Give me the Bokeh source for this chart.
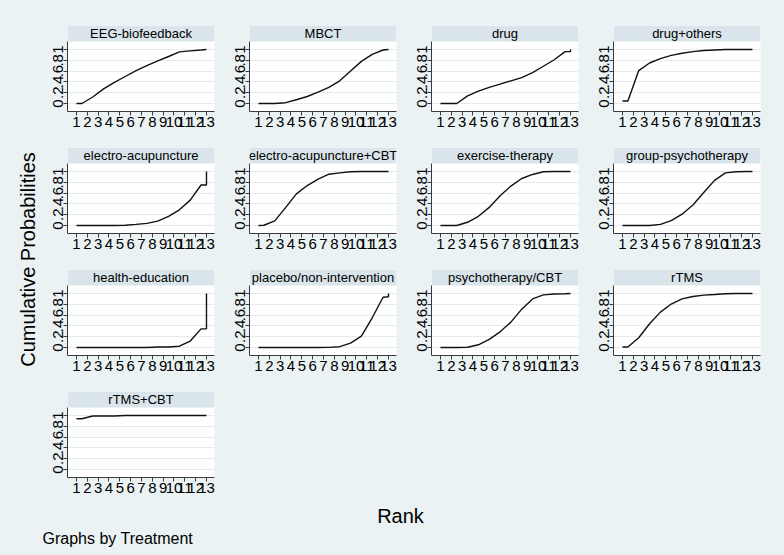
import math
from bokeh.plotting import figure
from bokeh.models import Range1d, FixedTicker, BoxAnnotation, Label
from bokeh.layouts import column, row
from bokeh.embed import file_html
from bokeh.resources import INLINE

# ---------------- data ----------------
TREATMENTS = ["EEG-biofeedback", "MBCT", "drug", "drug+others",
              "electro-acupuncture", "electro-acupuncture+CBT", "exercise-therapy", "group-psychotherapy",
              "health-education", "placebo/non-intervention", "psychotherapy/CBT", "rTMS",
              "rTMS+CBT"]
RANKS = [1, 2, 3, 4, 5, 6, 7, 8, 9, 10, 11, 12, 13]
# rank positions at which the curves have their vertices
RANK_POS = [1, 1.5, 2.5, 3.5, 4.5, 5.5, 6.5, 7.5, 8.5, 9.5, 10.5, 11.5, 12.5, 13, 13]
Y_TICKS = [0, 0.2, 0.4, 0.6, 0.8, 1]
Y_TICK_LABELS = ["0", ".2", ".4", ".6", ".8", "1"]

EEG_BIOFEEDBACK = [0, 0, 0.12, 0.27, 0.39, 0.50, 0.61, 0.70, 0.79, 0.87, 0.955, 0.975, 0.99, 1.0, 1.0]
MBCT = [0, 0, 0, 0.015, 0.07, 0.13, 0.21, 0.30, 0.42, 0.60, 0.78, 0.91, 0.99, 1.0, 1.0]
DRUG = [0, 0, 0, 0.14, 0.23, 0.30, 0.36, 0.42, 0.48, 0.57, 0.69, 0.81, 0.96, 0.96, 1.0]
DRUG_OTHERS = [0.045, 0.045, 0.61, 0.75, 0.83, 0.89, 0.93, 0.96, 0.98, 0.99, 1.0, 1.0, 1.0, 1.0, 1.0]
ELECTRO_ACUPUNCTURE = [0, 0, 0, 0, 0, 0.005, 0.02, 0.04, 0.08, 0.17, 0.29, 0.47, 0.75, 0.75, 1.0]
ELECTRO_ACUPUNCTURE_CBT = [0, 0.005, 0.085, 0.33, 0.585, 0.74, 0.86, 0.95, 0.975, 0.995, 1.0, 1.0, 1.0, 1.0, 1.0]
EXERCISE_THERAPY = [0, 0, 0, 0.06, 0.17, 0.335, 0.55, 0.73, 0.87, 0.945, 0.995, 1.0, 1.0, 1.0, 1.0]
GROUP_PSYCHOTHERAPY = [0, 0, 0, 0, 0.02, 0.09, 0.21, 0.38, 0.61, 0.835, 0.975, 0.995, 1.0, 1.0, 1.0]
HEALTH_EDUCATION = [0, 0, 0, 0, 0, 0, 0, 0, 0.01, 0.01, 0.024, 0.12, 0.345, 0.345, 1.0]
PLACEBO = [0, 0, 0, 0, 0, 0, 0, 0.002, 0.015, 0.08, 0.21, 0.55, 0.93, 0.94, 1.0]
PSYCHOTHERAPY_CBT = [0, 0, 0, 0.005, 0.05, 0.15, 0.29, 0.47, 0.71, 0.90, 0.975, 0.99, 0.995, 1.0, 1.0]
RTMS = [0.01, 0.01, 0.18, 0.44, 0.655, 0.805, 0.90, 0.945, 0.97, 0.98, 0.995, 1.0, 1.0, 1.0, 1.0]
RTMS_CBT = [0.94, 0.94, 0.99, 0.99, 0.99, 1.0, 1.0, 1.0, 1.0, 1.0, 1.0, 1.0, 1.0, 1.0, 1.0]

SERIES = [EEG_BIOFEEDBACK, MBCT, DRUG, DRUG_OTHERS,
          ELECTRO_ACUPUNCTURE, ELECTRO_ACUPUNCTURE_CBT, EXERCISE_THERAPY, GROUP_PSYCHOTHERAPY,
          HEALTH_EDUCATION, PLACEBO, PSYCHOTHERAPY_CBT, RTMS, RTMS_CBT]

# ---------------- styling ----------------
BG = "#EAF2F3"
STRIP = "#D9E5EA"
GRID = "#E2EBEE"
FONT = "Liberation Sans"

CELL_W, CELL_H = 182, 122
B_LEFT, B_RIGHT, B_TOP, B_BOTTOM = 28, 7, 6, 30
X_LO, X_HI = 0.17, 13.74
Y_LO, Y_PLOT_HI, Y_HI = -0.148, 1.148, 1.444


def panel(name, yvals, height=CELL_H, bottom_border=B_BOTTOM):
    p = figure(width=CELL_W, height=height, output_backend="svg", toolbar_location=None,
               x_range=Range1d(X_LO, X_HI), y_range=Range1d(Y_LO, Y_HI),
               min_border_left=B_LEFT, min_border_right=B_RIGHT,
               min_border_top=B_TOP, min_border_bottom=bottom_border)
    p.border_fill_color = BG
    p.background_fill_color = "white"
    p.outline_line_color = None
    p.xgrid.visible = False
    p.ygrid.ticker = FixedTicker(ticks=Y_TICKS)
    p.ygrid.grid_line_color = GRID
    p.ygrid.grid_line_width = 1

    for ax in (p.xaxis[0], p.yaxis[0]):
        ax.axis_line_color = "#3a3a3a"
        ax.major_tick_line_color = "#3a3a3a"
        ax.major_tick_in = 0
        ax.major_tick_out = 4
        ax.minor_tick_line_color = None
        ax.major_label_text_font = FONT
        ax.major_label_text_font_size = "15px"
        ax.major_label_text_color = "black"
    p.xaxis.ticker = FixedTicker(ticks=RANKS)
    p.xaxis.major_label_standoff = 1
    p.yaxis.ticker = FixedTicker(ticks=Y_TICKS)
    p.yaxis.major_label_overrides = dict(zip(Y_TICKS, Y_TICK_LABELS))
    p.yaxis.major_label_orientation = "vertical"
    p.yaxis.major_label_standoff = 0
    p.yaxis.bounds = (Y_LO, Y_PLOT_HI)

    p.add_layout(BoxAnnotation(bottom=Y_PLOT_HI, fill_color=STRIP, fill_alpha=1.0,
                               line_color=None, level="underlay"))
    p.add_layout(Label(x=(X_LO + X_HI) / 2, y=(Y_PLOT_HI + Y_HI) / 2, text=name,
                       text_align="center", text_baseline="middle",
                       text_font=FONT, text_font_size="13px", text_color="black"))
    p.line(RANK_POS, yvals, line_color="#111111", line_width=1.4)
    return p


def blank(w, h):
    b = figure(width=w, height=h, output_backend="svg", toolbar_location=None,
               x_range=Range1d(0, w), y_range=Range1d(0, h),
               min_border=0, min_border_left=0, min_border_right=0,
               min_border_top=0, min_border_bottom=0)
    b.axis.visible = False
    b.grid.visible = False
    b.outline_line_color = None
    b.border_fill_color = BG
    b.background_fill_color = BG
    return b


LAST_H = CELL_H - 6
LAST_BOTTOM = B_BOTTOM - 6

cells = []
for i, (n, s) in enumerate(zip(TREATMENTS, SERIES)):
    if i >= 12:
        cells.append(panel(n, s, height=LAST_H, bottom_border=LAST_BOTTOM))
    else:
        cells.append(panel(n, s))
while len(cells) < 16:
    cells.append(blank(CELL_W, LAST_H))
grid_rows = [row(*cells[i:i + 4], spacing=0) for i in range(0, 16, 4)]
grid = column(*grid_rows, spacing=0)

TOTAL_W, TOTAL_H = 784, 555
TOP_H = 19
LEFT_W = 39
GRID_H = 3 * CELL_H + LAST_H
RIGHT_W = TOTAL_W - LEFT_W - 4 * CELL_W
BOTTOM_H = TOTAL_H - TOP_H - GRID_H

left = blank(LEFT_W, GRID_H)
left.add_layout(Label(x=27, y=GRID_H - 240, text="Cumulative Probabilities",
                      angle=math.pi / 2, text_align="center", text_baseline="middle",
                      text_font=FONT, text_font_size="20px", text_color="black"))
right = blank(RIGHT_W, GRID_H)
top = blank(TOTAL_W, TOP_H)
bottom = blank(TOTAL_W, BOTTOM_H)
bottom.add_layout(Label(x=400, y=BOTTOM_H - 14, text="Rank", text_align="center",
                        text_baseline="middle", text_font=FONT, text_font_size="20px",
                        text_color="black"))
bottom.add_layout(Label(x=42, y=BOTTOM_H - 37, text="Graphs by Treatment", text_align="left",
                        text_baseline="middle", text_font=FONT, text_font_size="16px",
                        text_color="black"))

page = column(top, row(left, grid, right, spacing=0), bottom, spacing=0,
              styles={"background-color": BG})

open("out.html", "w").write(file_html(page, INLINE))
